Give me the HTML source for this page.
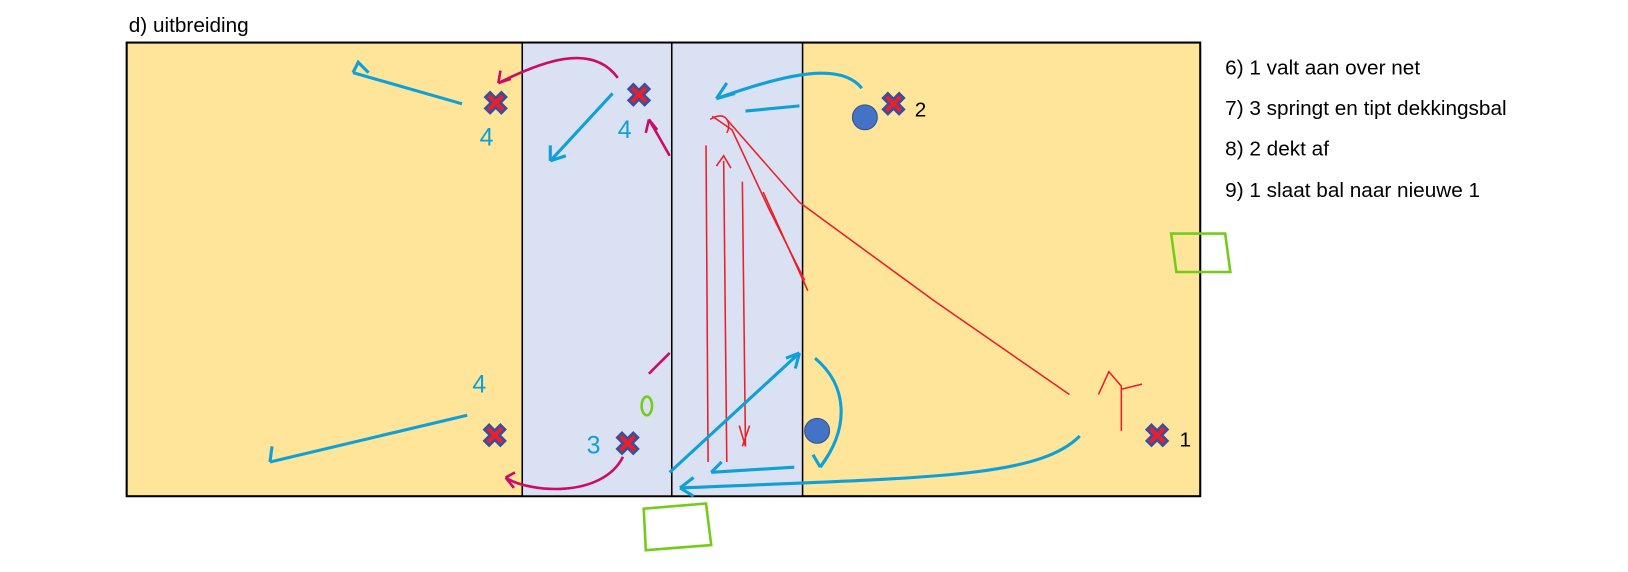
<!DOCTYPE html>
<html><head><meta charset="utf-8"><style>
body{margin:0;background:#fff;width:1628px;height:572px;overflow:hidden;font-family:"Liberation Sans",sans-serif;}
svg{position:absolute;left:0;top:0}
</style></head><body>
<svg width="1628" height="572" viewBox="0 0 1568 551" preserveAspectRatio="none" xmlns="http://www.w3.org/2000/svg">
<rect x="122" y="41" width="1034" height="437" fill="#fee599" stroke="#000" stroke-width="2"/>
<rect x="503" y="42" width="270" height="435" fill="#dae1f2"/>
<line x1="503" y1="41" x2="503" y2="478" stroke="#000" stroke-width="1.5"/>
<line x1="647" y1="41" x2="647" y2="478" stroke="#000" stroke-width="1.5"/>
<line x1="773" y1="41" x2="773" y2="478" stroke="#000" stroke-width="1.5"/>
<text x="124" y="31" font-size="20">d) uitbreiding</text>
<g font-size="20"><text x="1180" y="72">6) 1 valt aan over net</text><text x="1180" y="111">7) 3 springt en tipt dekkingsbal</text><text x="1180" y="150">8) 2 dekt af</text><text x="1180" y="190">9) 1 slaat bal naar nieuwe 1</text></g>
<g fill="none" stroke="#e8202a" stroke-width="1.5">
<path d="M686 112 L705 125 L740 200 L775 270 M700 115 L770 195 L900 290 L1030 380"/>
<path d="M684 115 C700 105 705 120 700 128"/>
<path d="M680 140 L682 445 M697 155 L700 445 M715 175 L718 430 L712 410 M715 430 L722 410 M735 185 L778 280 L770 262 M1058 380 L1068 358 L1080 372 L1080 415 M1080 375 L1100 370"/>
<path d="M690 160 L697 150 L704 162"/>
</g>
<g fill="none" stroke="#0fa0d8" stroke-width="3">
<path d="M830 85 C810 60 760 70 690 95 M445 100 L340 70 M590 90 L530 155 M450 400 L260 445 M770 340 L645 455 M785 345 C815 370 820 410 790 450 M1040 420 C1000 460 900 460 655 470 M765 450 L685 455 M718 107 L770 102"/>
<path d="M690 95 L700 80 M690 95 L708 90 M340 70 L345 60 L355 70 M530 155 L530 140 M530 155 L545 150 M260 445 L262 430 M655 470 L668 460 M655 470 L668 478 M770 340 L757 345 M770 340 L766 355 M790 450 L783 438 M790 450 L798 438 M685 455 L695 445"/>
</g>
<g fill="none" stroke="#cc0b66" stroke-width="2.5">
<path d="M595 75 C570 40 520 60 480 80 M645 150 L625 115 M600 440 C580 480 510 475 487 460 M645 340 L625 360"/>
<path d="M480 80 L482 68 M480 80 L492 76 M625 115 L622 128 M625 115 L633 125 M487 460 L496 455 M487 460 L495 470"/>
</g>
<g fill="none" stroke="#73cc1a" stroke-width="2.5">
<path d="M1128 225 L1180 225 L1185 262 L1133 262 Z M620 490 L680 485 L685 525 L622 530 Z"/>
<ellipse cx="623" cy="391" rx="5" ry="9"/>
</g>
<g font-size="24" fill="#0fa0d8"><text x="462" y="140">4</text><text x="595" y="133">4</text><text x="455" y="378">4</text><text x="565" y="437">3</text></g>
<g font-size="30" font-weight="bold" fill="#e8202a" stroke="#3a4ea0" stroke-width="1.5">
<text x="465" y="110">✖</text><text x="603" y="102">✖</text><text x="848" y="111">✖</text><text x="464" y="430">✖</text><text x="592" y="438">✖</text><text x="1102" y="430">✖</text></g>
<text x="881" y="112" font-size="20">2</text><text x="1136" y="430" font-size="20">1</text>
<ellipse cx="833" cy="113" rx="12" ry="12" fill="#4472c4" stroke="#2f528f"/>
<ellipse cx="787" cy="415" rx="12" ry="12" fill="#4472c4" stroke="#2f528f"/>
</svg>
</body></html>
